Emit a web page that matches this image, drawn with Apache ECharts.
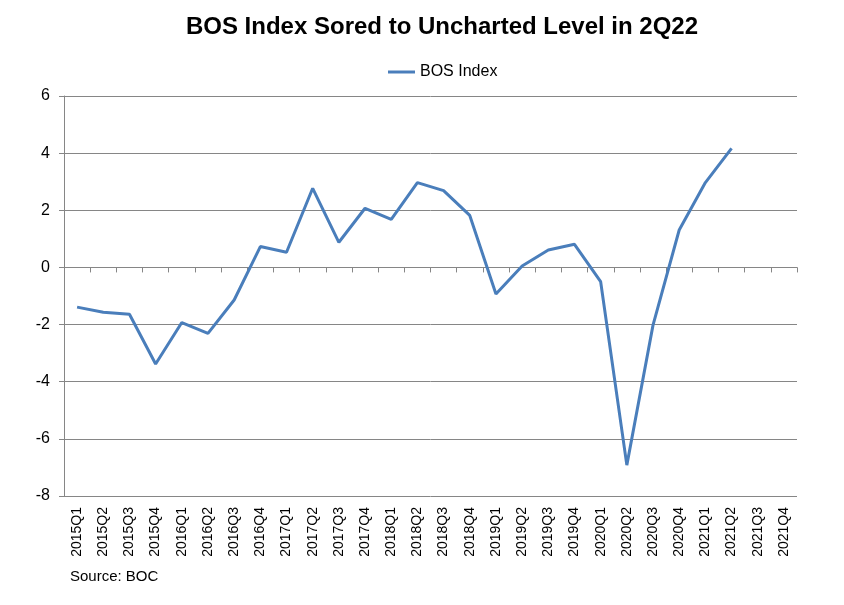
<!DOCTYPE html>
<html><head><meta charset="utf-8">
<script src="https://cdn.jsdelivr.net/npm/echarts@6/dist/echarts.min.js"></script>
<style>html,body{margin:0;padding:0;background:#fff}#c{width:844px;height:605px}</style>
</head><body><div id="c"></div>
<script>
const categories = ['2015Q1','2015Q2','2015Q3','2015Q4','2016Q1','2016Q2','2016Q3','2016Q4','2017Q1','2017Q2','2017Q3','2017Q4','2018Q1','2018Q2','2018Q3','2018Q4','2019Q1','2019Q2','2019Q3','2019Q4','2020Q1','2020Q2','2020Q3','2020Q4','2021Q1','2021Q2','2021Q3','2021Q4'];
const bosIndex = [-1.39,-1.57,-1.64,-3.38,-1.93,-2.31,-1.14,0.73,0.53,2.77,0.88,2.07,1.68,2.97,2.69,1.82,-0.93,0.05,0.61,0.81,-0.50,-6.92,-2.02,1.31,2.97,4.17,null,null];
const yTicks = {min:-8, max:6, interval:2};

const chart = echarts.init(document.getElementById('c'));
const FONT = 'Liberation Sans, Arial, sans-serif';
chart.setOption({
  animation:false,
  title:{text:'BOS Index Sored to Uncharted Level in 2Q22', left:437, textAlign:'center', top:10,
    textStyle:{fontFamily:FONT, fontSize:24, fontWeight:'bold', color:'#000'}},
  legend:{top:59, left:383, itemWidth:27, itemHeight:3, itemGap:4,
    textStyle:{fontFamily:FONT, fontSize:16, color:'#000'},
    data:[{name:'BOS Index', icon:'rect'}]},
  grid:{left:64, right:47, top:96, bottom:109, containLabel:false},
  xAxis:[{
    type:'category', data:categories, boundaryGap:true,
    axisLine:{onZero:true, lineStyle:{color:'#868686', width:1}},
    axisTick:{show:true, length:5, inside:false, interval:0, lineStyle:{color:'#868686'}},
    axisLabel:{show:false}, splitLine:{show:false}
  },{
    type:'category', data:categories, position:'bottom', boundaryGap:true,
    axisLine:{show:false}, axisTick:{show:false},
    axisLabel:{rotate:90, fontFamily:FONT, fontSize:14, color:'#000', margin:11, interval:0}
  }],
  yAxis:{type:'value', min:yTicks.min, max:yTicks.max, interval:yTicks.interval,
    axisLine:{show:true, lineStyle:{color:'#868686'}},
    axisTick:{show:true, length:5, lineStyle:{color:'#868686'}},
    axisLabel:{fontFamily:FONT, fontSize:16, color:'#000', margin:14},
    splitLine:{lineStyle:{color:'#868686', width:1}}},
  series:[{name:'BOS Index', type:'line', xAxisIndex:0, data:bosIndex, symbol:'none',
    lineStyle:{color:'#4a7ebb', width:3}, itemStyle:{color:'#4a7ebb'}}],
  graphic:[{type:'text', left:70, top:569,
    style:{text:'Source: BOC', font:'15px '+FONT, fill:'#000'}}]
});
</script></body></html>
